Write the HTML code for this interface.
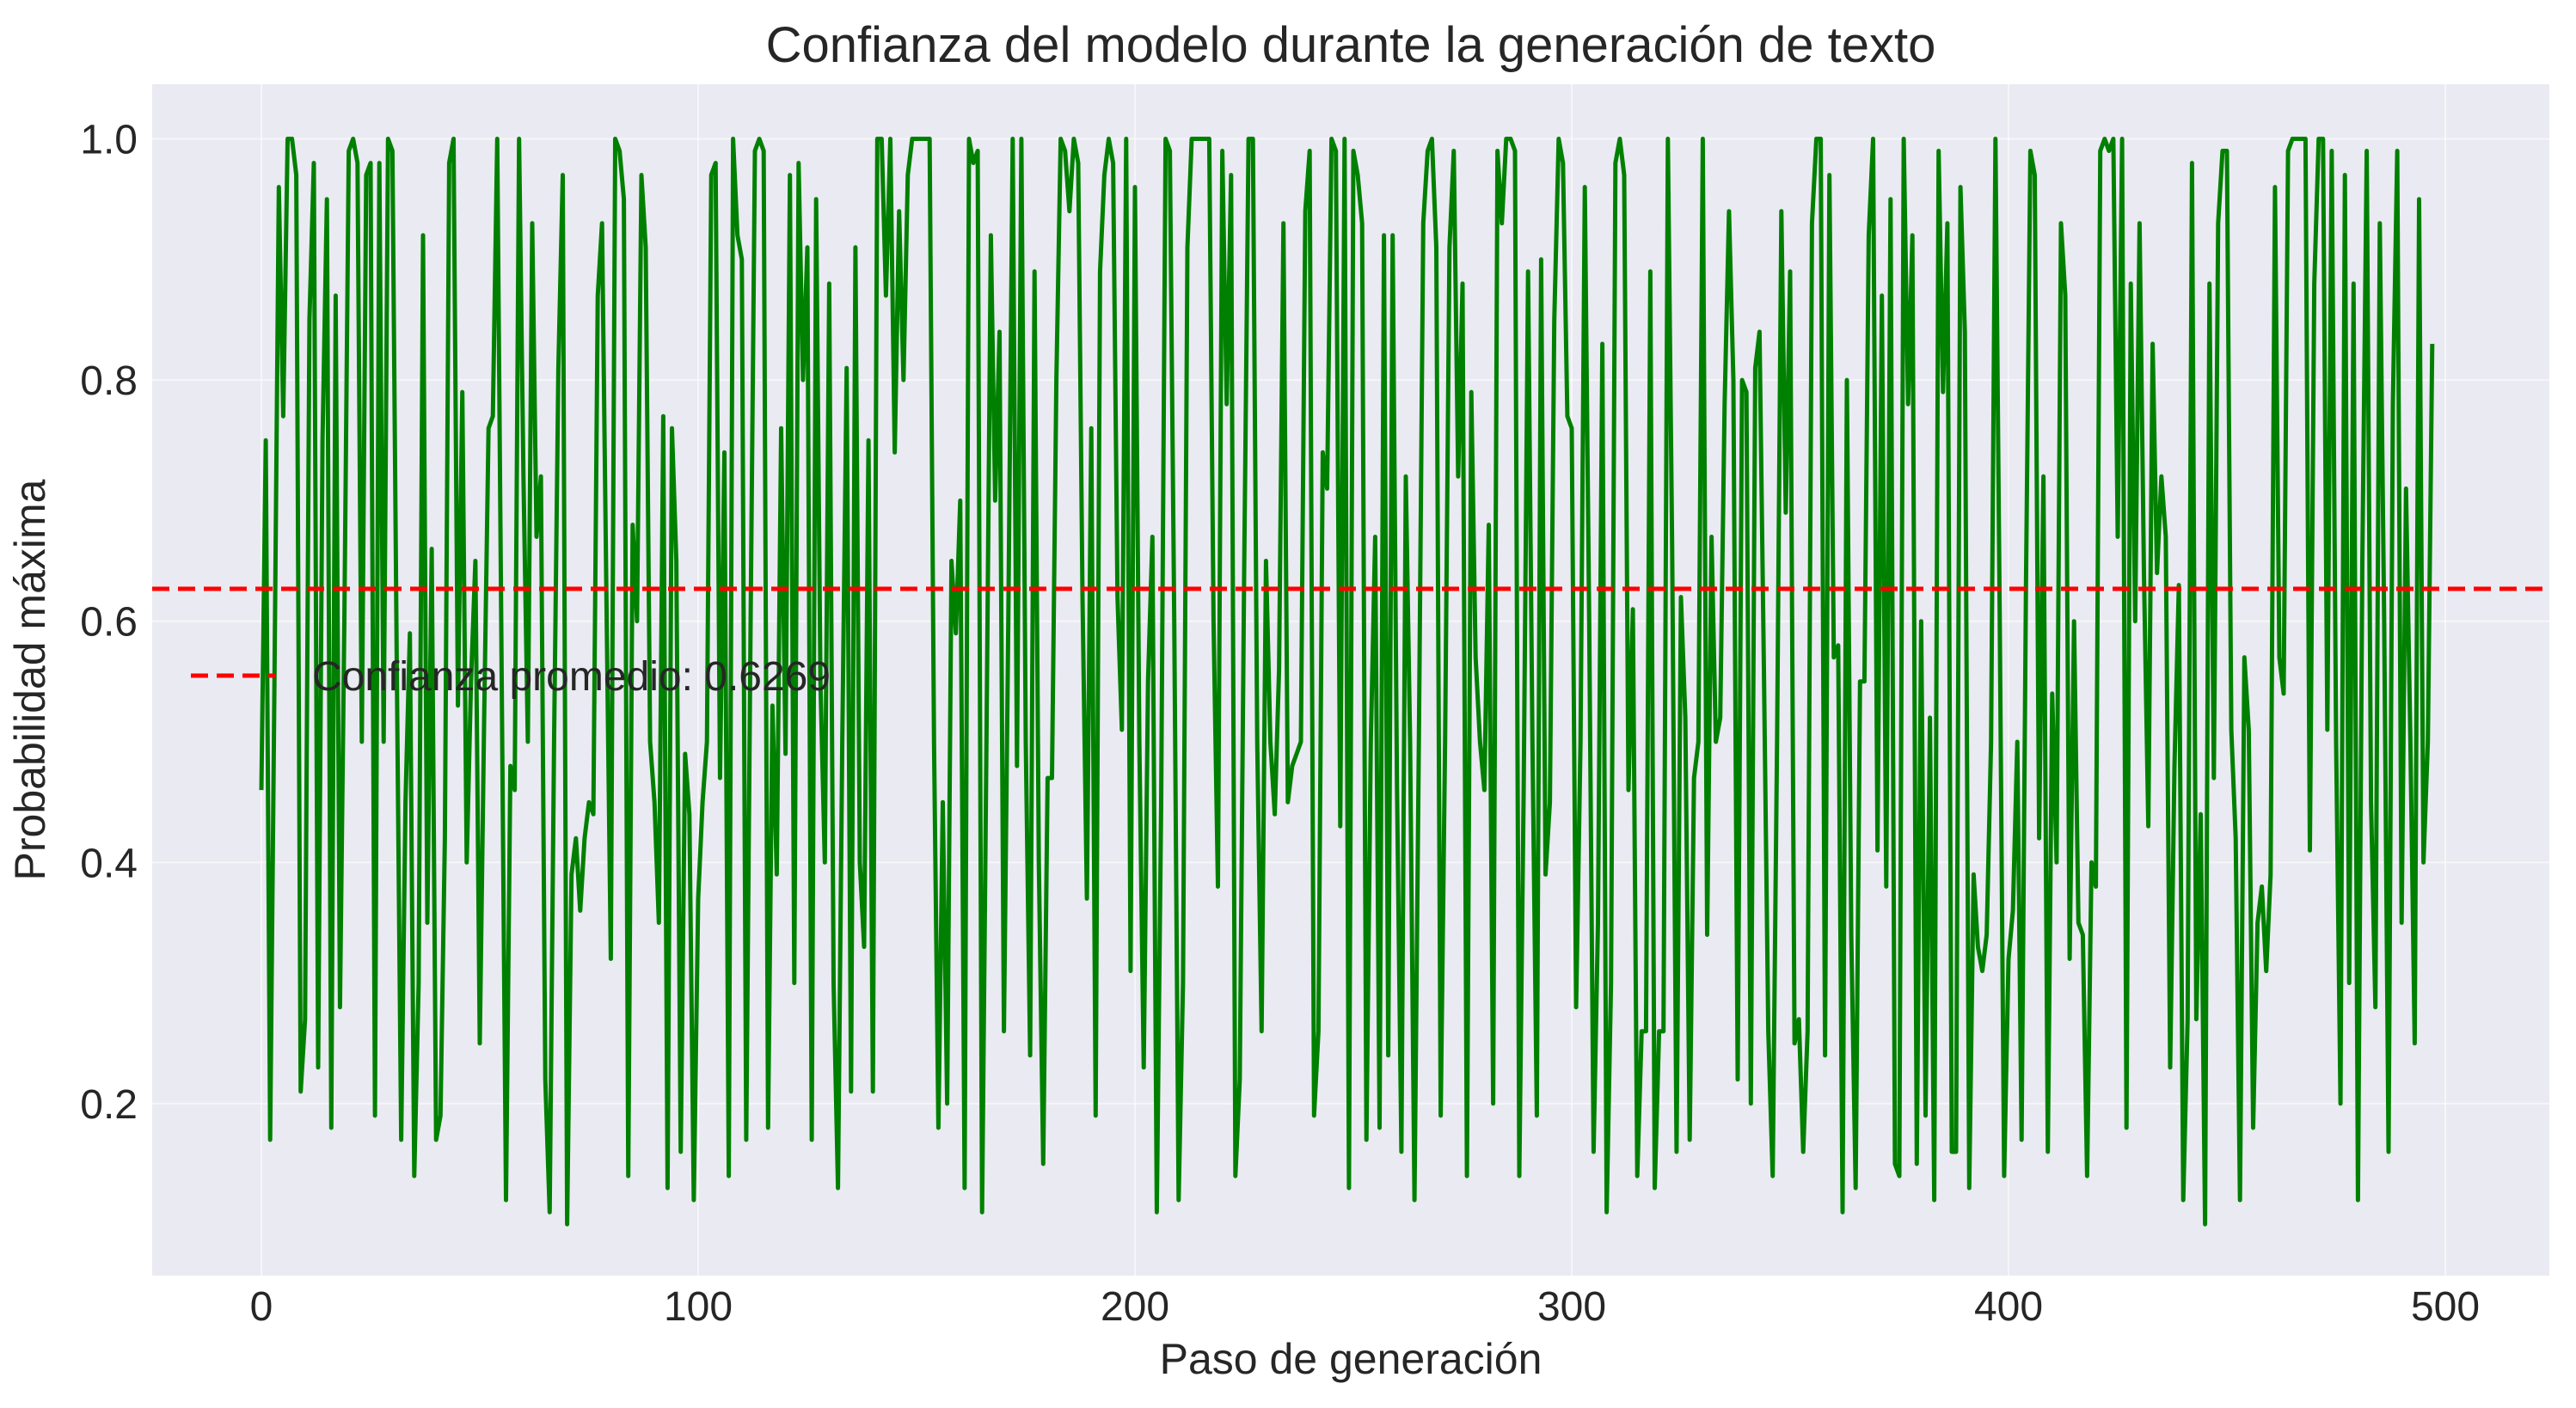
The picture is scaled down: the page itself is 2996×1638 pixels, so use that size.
<!DOCTYPE html>
<html><head><meta charset="utf-8"><style>
html,body{margin:0;padding:0;background:#fff;}
svg{display:block;font-family:"Liberation Sans",sans-serif;}
</style></head><body>
<svg id="chart" width="2996" height="1638" viewBox="0 0 2996 1638" xmlns="http://www.w3.org/2000/svg">
<rect x="0" y="0" width="2996" height="1638" fill="#ffffff"/>
<rect x="177" y="98" width="2788" height="1386" fill="#eaeaf2"/>
<g id="grid"></g>
<g id="ticks"></g>
<g id="series"></g>
<text x="1571" y="72" text-anchor="middle" font-size="58" fill="#262626">Confianza del modelo durante la generación de texto</text>
<text x="1571" y="1598" text-anchor="middle" font-size="50" fill="#262626">Paso de generación</text>
<text transform="translate(52,791) rotate(-90)" text-anchor="middle" font-size="50" fill="#262626">Probabilidad máxima</text>
<g>
<line x1="222" y1="786" x2="321" y2="786" stroke="#ff0000" stroke-width="5" stroke-dasharray="20,10"/>
<text x="363" y="803" font-size="48" fill="#262626">Confianza promedio: 0.6269</text>
</g>
</svg>
<script>
const xTicks=[0,100,200,300,400,500];
const yTicks=[0.2,0.4,0.6,0.8,1.0];
const yTickLabels=["0.2","0.4","0.6","0.8","1.0"];
const meanValue=0.6269;
const probs=[0.46,0.75,0.17,0.55,0.96,0.77,1.0,1.0,0.97,0.21,0.27,0.85,0.98,0.23,0.75,0.95,0.18,0.87,0.28,0.6,0.99,1.0,0.98,0.5,0.97,0.98,0.19,0.98,0.5,1.0,0.99,0.56,0.17,0.45,0.59,0.14,0.3,0.92,0.35,0.66,0.17,0.19,0.42,0.98,1.0,0.53,0.79,0.4,0.55,0.65,0.25,0.52,0.76,0.77,1.0,0.56,0.12,0.48,0.46,1.0,0.72,0.5,0.93,0.67,0.72,0.22,0.11,0.5,0.81,0.97,0.1,0.39,0.42,0.36,0.42,0.45,0.44,0.87,0.93,0.62,0.32,1.0,0.99,0.95,0.14,0.68,0.6,0.97,0.91,0.5,0.45,0.35,0.77,0.13,0.76,0.65,0.16,0.49,0.44,0.12,0.37,0.45,0.5,0.97,0.98,0.47,0.74,0.14,1.0,0.92,0.9,0.17,0.6,0.99,1.0,0.99,0.18,0.53,0.39,0.76,0.49,0.97,0.3,0.98,0.8,0.91,0.17,0.95,0.55,0.4,0.88,0.3,0.13,0.5,0.81,0.21,0.91,0.4,0.33,0.75,0.21,1.0,1.0,0.87,1.0,0.74,0.94,0.8,0.97,1.0,1.0,1.0,1.0,1.0,0.5,0.18,0.45,0.2,0.65,0.59,0.7,0.13,1.0,0.98,0.99,0.11,0.5,0.92,0.7,0.84,0.26,0.6,1.0,0.48,1.0,0.5,0.24,0.89,0.4,0.15,0.47,0.47,0.8,1.0,0.99,0.94,1.0,0.98,0.62,0.37,0.76,0.19,0.89,0.97,1.0,0.98,0.62,0.51,1.0,0.31,0.96,0.5,0.23,0.55,0.67,0.11,0.45,1.0,0.99,0.6,0.12,0.3,0.91,1.0,1.0,1.0,1.0,1.0,0.6,0.38,0.99,0.78,0.97,0.14,0.22,0.64,1.0,1.0,0.5,0.26,0.65,0.5,0.44,0.56,0.93,0.45,0.48,0.49,0.5,0.94,0.99,0.19,0.26,0.74,0.71,1.0,0.99,0.43,1.0,0.13,0.99,0.97,0.93,0.17,0.5,0.67,0.18,0.92,0.24,0.92,0.46,0.16,0.72,0.5,0.12,0.5,0.93,0.99,1.0,0.91,0.19,0.5,0.91,0.99,0.72,0.88,0.14,0.79,0.57,0.5,0.46,0.68,0.2,0.99,0.93,1.0,1.0,0.99,0.14,0.46,0.89,0.5,0.19,0.9,0.39,0.45,0.85,1.0,0.98,0.77,0.76,0.28,0.5,0.96,0.6,0.16,0.35,0.83,0.11,0.3,0.98,1.0,0.97,0.46,0.61,0.14,0.26,0.26,0.89,0.13,0.26,0.26,1.0,0.66,0.16,0.62,0.52,0.17,0.47,0.5,1.0,0.34,0.67,0.5,0.52,0.78,0.94,0.8,0.22,0.8,0.79,0.2,0.81,0.84,0.56,0.26,0.14,0.5,0.94,0.69,0.89,0.25,0.27,0.16,0.26,0.93,1.0,1.0,0.24,0.97,0.57,0.58,0.11,0.8,0.34,0.13,0.55,0.55,0.92,1.0,0.41,0.87,0.38,0.95,0.15,0.14,1.0,0.78,0.92,0.15,0.6,0.19,0.52,0.12,0.99,0.79,0.93,0.16,0.16,0.96,0.84,0.13,0.39,0.33,0.31,0.34,0.5,1.0,0.6,0.14,0.32,0.36,0.5,0.17,0.63,0.99,0.97,0.42,0.72,0.16,0.54,0.4,0.93,0.87,0.32,0.6,0.35,0.34,0.14,0.4,0.38,0.99,1.0,0.99,1.0,0.67,1.0,0.18,0.88,0.6,0.93,0.64,0.43,0.83,0.64,0.72,0.67,0.23,0.48,0.63,0.12,0.27,0.98,0.27,0.44,0.1,0.88,0.47,0.93,0.99,0.99,0.51,0.42,0.12,0.57,0.51,0.18,0.35,0.38,0.31,0.39,0.96,0.57,0.54,0.99,1.0,1.0,1.0,1.0,0.41,0.88,1.0,1.0,0.51,0.99,0.5,0.2,0.97,0.3,0.88,0.12,0.65,0.99,0.45,0.28,0.93,0.6,0.16,0.78,0.99,0.35,0.71,0.5,0.25,0.95,0.4,0.5,0.83];

const NS="http://www.w3.org/2000/svg";
const L=177,R=2965,T=98,B=1484;
function xScale(v){return 304+(v-0)*(2844-304)/500;}
function yScale(v){return 161.5+(1.0-v)*1403;}
const grid=document.getElementById('grid');
const ticks=document.getElementById('ticks');
const series=document.getElementById('series');
function mk(tag,attrs,parent){const e=document.createElementNS(NS,tag);for(const k in attrs)e.setAttribute(k,attrs[k]);parent.appendChild(e);return e;}

xTicks.forEach(function(t){
  const gx=mk('line',{x1:xScale(t),x2:xScale(t),y1:T,y2:B,stroke:'#ffffff','stroke-width':2,'stroke-opacity':0.55},grid);
  
  
  const tx=mk('text',{x:xScale(t),y:1536,'text-anchor':'middle','font-size':48,fill:'#262626'},ticks);
  
  
  tx.textContent=String(t);
});
yTicks.forEach(function(t,i){
  const gy=mk('line',{x1:L,x2:R,y1:yScale(t),y2:yScale(t),stroke:'#ffffff','stroke-width':2,'stroke-opacity':0.55},grid);
  
  
  const ty=mk('text',{x:160,y:yScale(t)+17,'text-anchor':'end','font-size':48,fill:'#262626'},ticks);
  
  
  ty.textContent=yTickLabels[i];
});

let d='';
probs.forEach(function(v,i){d+=(i?'L':'M')+xScale(i).toFixed(1)+','+yScale(v).toFixed(1);});
const line=mk('path',{d:d,fill:'none',stroke:'#008000','stroke-width':5,'stroke-linejoin':'round'},series);



const mean=mk('line',{x1:L,x2:R,y1:yScale(meanValue),y2:yScale(meanValue),stroke:'#ff0000','stroke-width':5,'stroke-dasharray':'20,10'},series);


</script>
</body></html>
